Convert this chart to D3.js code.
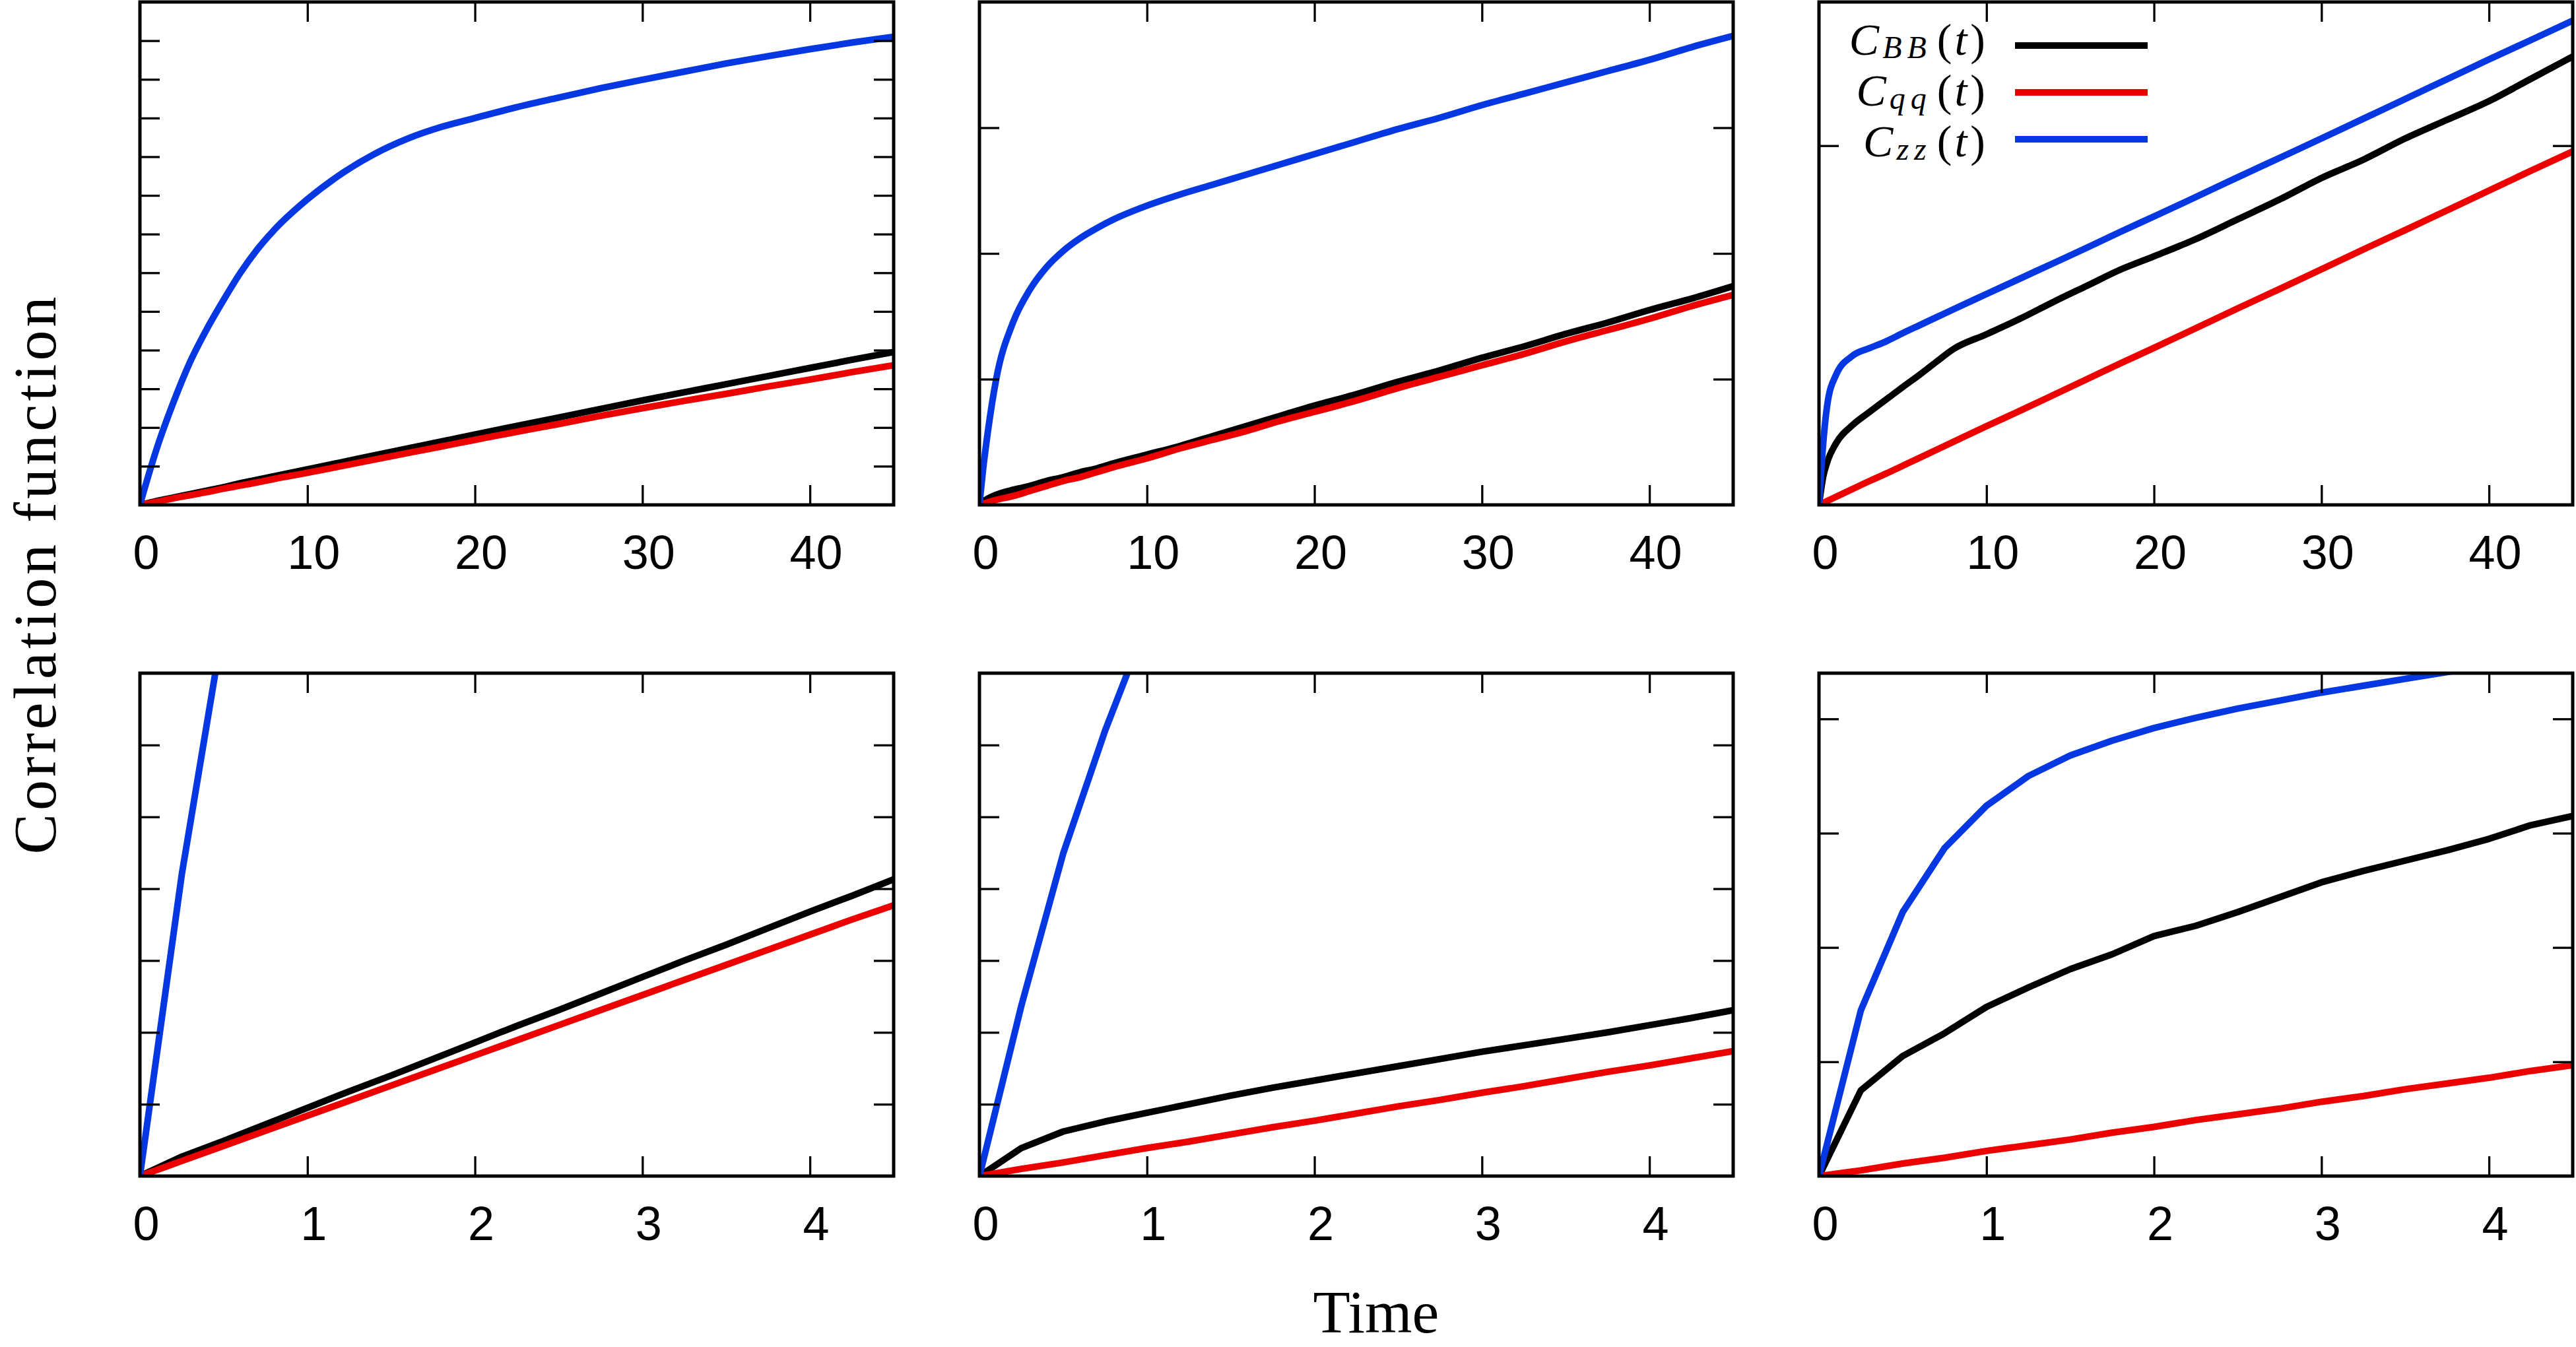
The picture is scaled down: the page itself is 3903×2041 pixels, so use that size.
<!DOCTYPE html>
<html>
<head>
<meta charset="utf-8">
<script src="https://cdn.jsdelivr.net/npm/d3@7"></script>
<style>
  html, body { margin: 0; padding: 0; background: #fff; }
  svg { display: block; }
</style>
</head>
<body>
<script>
// ---------------- DATA ----------------
const tLong  = [0, 0.25, 0.5, 1, 2, 3, 4, 5, 6, 7, 8, 10, 12, 14, 16, 18, 20, 22.5, 25, 27.5, 30, 32.5, 35, 37.5, 40, 42.5, 45];
const tShort = [0, 0.25, 0.5, 0.75, 1, 1.25, 1.5, 1.75, 2, 2.25, 2.5, 2.75, 3, 3.25, 3.5, 3.75, 4, 4.25, 4.5];

// Panel A (top-left)
const bbA = [0, 0.02, 0.05, 0.1, 0.19, 0.28, 0.37, 0.46, 0.56, 0.65, 0.74, 0.92, 1.1, 1.28, 1.46, 1.64, 1.82, 2.04, 2.26, 2.48, 2.7, 2.91, 3.12, 3.33, 3.54, 3.75, 3.95];
const qqA = [0, 0.02, 0.04, 0.08, 0.17, 0.25, 0.33, 0.42, 0.5, 0.58, 0.67, 0.83, 1.0, 1.17, 1.34, 1.51, 1.68, 1.89, 2.09, 2.3, 2.5, 2.69, 2.87, 3.06, 3.24, 3.43, 3.61];
const zzA = [0, 0.38, 0.75, 1.45, 2.65, 3.7, 4.55, 5.3, 6.0, 6.6, 7.1, 7.9, 8.55, 9.07, 9.47, 9.77, 10.0, 10.28, 10.53, 10.77, 10.99, 11.2, 11.41, 11.6, 11.78, 11.95, 12.1];

// Panel B (top-middle)
const bbB = [0, 0.03, 0.05, 0.08, 0.12, 0.15, 0.19, 0.22, 0.26, 0.29, 0.33, 0.4, 0.47, 0.55, 0.63, 0.71, 0.79, 0.88, 0.98, 1.07, 1.17, 1.26, 1.36, 1.45, 1.55, 1.64, 1.74];
const qqB = [0, 0.01, 0.02, 0.04, 0.07, 0.11, 0.15, 0.19, 0.22, 0.26, 0.3, 0.37, 0.45, 0.52, 0.59, 0.67, 0.74, 0.83, 0.93, 1.02, 1.11, 1.2, 1.3, 1.39, 1.48, 1.58, 1.67];
const zzB = [0, 0.32, 0.58, 1.0, 1.45, 1.71, 1.89, 2.02, 2.12, 2.2, 2.27, 2.38, 2.47, 2.55, 2.63, 2.71, 2.79, 2.89, 2.99, 3.08, 3.18, 3.27, 3.36, 3.45, 3.54, 3.64, 3.73];

// Panel C (top-right)
const bbC = [0, 0.078, 0.12, 0.17, 0.222, 0.258, 0.293, 0.328, 0.362, 0.398, 0.433, 0.475, 0.518, 0.565, 0.61, 0.655, 0.692, 0.74, 0.795, 0.85, 0.91, 0.961, 1.02, 1.072, 1.124, 1.186, 1.248];
const qqC = [0, 0.005, 0.011, 0.022, 0.044, 0.066, 0.087, 0.109, 0.131, 0.153, 0.175, 0.219, 0.262, 0.306, 0.35, 0.394, 0.437, 0.492, 0.547, 0.601, 0.656, 0.711, 0.765, 0.82, 0.875, 0.93, 0.984];
const zzC = [0, 0.17, 0.28, 0.36, 0.415, 0.436, 0.455, 0.478, 0.5, 0.522, 0.544, 0.587, 0.63, 0.673, 0.716, 0.76, 0.803, 0.857, 0.912, 0.966, 1.02, 1.075, 1.13, 1.185, 1.24, 1.294, 1.348];

// Panel D (bottom-left)
const bbD = [0, 0.27, 0.49, 0.72, 0.95, 1.18, 1.4, 1.63, 1.86, 2.09, 2.31, 2.54, 2.77, 3.0, 3.22, 3.45, 3.68, 3.9, 4.13];
const qqD = [0, 0.21, 0.42, 0.63, 0.84, 1.05, 1.26, 1.47, 1.68, 1.89, 2.1, 2.31, 2.52, 2.73, 2.94, 3.15, 3.36, 3.57, 3.77];
const zzD = [0, 4.2, 7.7, null, null, null, null, null, null, null, null, null, null, null, null, null, null, null, null];

// Panel E (bottom-middle)
const bbE = [0, 0.39, 0.62, 0.76, 0.88, 1.0, 1.12, 1.23, 1.33, 1.43, 1.53, 1.63, 1.73, 1.82, 1.91, 2.0, 2.1, 2.2, 2.31];
const qqE = [0, 0.1, 0.19, 0.29, 0.39, 0.48, 0.58, 0.68, 0.77, 0.87, 0.97, 1.06, 1.16, 1.25, 1.35, 1.45, 1.54, 1.64, 1.74];
const zzE = [0, 2.37, 4.49, 6.2, 7.7, null, null, null, null, null, null, null, null, null, null, null, null, null, null];

// Panel F (bottom-right)
const bbF = [0, 0.75, 1.05, 1.25, 1.48, 1.65, 1.81, 1.94, 2.1, 2.19, 2.31, 2.44, 2.57, 2.67, 2.76, 2.85, 2.95, 3.07, 3.15];
const qqF = [0, 0.05, 0.11, 0.16, 0.22, 0.27, 0.32, 0.38, 0.43, 0.49, 0.54, 0.59, 0.65, 0.7, 0.76, 0.81, 0.86, 0.92, 0.97];
const zzF = [0, 1.45, 2.31, 2.87, 3.24, 3.5, 3.68, 3.81, 3.92, 4.01, 4.09, 4.16, 4.23, 4.29, 4.35, 4.41, 4.47, 4.53, 4.58];

// Axes / ticks
const xTicksLong  = [0, 10, 20, 30, 40];
const xTicksShort = [0, 1, 2, 3, 4];
const yTicksA = [1, 2, 3, 4, 5, 6, 7, 8, 9, 10, 11, 12];
const yTicksB = [1, 2, 3];
const yTicksC = [1];
const yTicksD = [1, 2, 3, 4, 5, 6];
const yTicksE = [1, 2, 3, 4, 5, 6];
const yTicksF = [1, 2, 3, 4];
const yMax = [13, 4, 1.4, 7, 7, 4.4];

const seriesKeys   = ["BB", "qq", "zz"];
const seriesColors = ["#000000", "#ec0000", "#0537e3"];
const xLabel = "Time";
const yLabel = "Correlation function";

// ---------------- LAYOUT ----------------
const W = 3903, H = 2041;
const PW = 1142, PH = 762;
const lefts = [212, 1484, 2756];
const tops  = [3, 1020];

const panelDefs = [
  {t: tLong,  s: [bbA, qqA, zzA], xd: 45,  xt: xTicksLong,  yt: yTicksA, ym: yMax[0], col: 0, row: 0},
  {t: tLong,  s: [bbB, qqB, zzB], xd: 45,  xt: xTicksLong,  yt: yTicksB, ym: yMax[1], col: 1, row: 0},
  {t: tLong,  s: [bbC, qqC, zzC], xd: 45,  xt: xTicksLong,  yt: yTicksC, ym: yMax[2], col: 2, row: 0, legend: true},
  {t: tShort, s: [bbD, qqD, zzD], xd: 4.5, xt: xTicksShort, yt: yTicksD, ym: yMax[3], col: 0, row: 1},
  {t: tShort, s: [bbE, qqE, zzE], xd: 4.5, xt: xTicksShort, yt: yTicksE, ym: yMax[4], col: 1, row: 1},
  {t: tShort, s: [bbF, qqF, zzF], xd: 4.5, xt: xTicksShort, yt: yTicksF, ym: yMax[5], col: 2, row: 1},
];

const SANS = "'Liberation Sans', Arial, Helvetica, sans-serif";
const SERIF = "'Liberation Serif', 'Times New Roman', serif";

const svg = d3.select("body").append("svg")
  .attr("width", W).attr("height", H)
  .attr("viewBox", `0 0 ${W} ${H}`);
svg.append("rect").attr("width", W).attr("height", H).attr("fill", "#fff");

const defs = svg.append("defs");

panelDefs.forEach((p, i) => {
  const x = d3.scaleLinear().domain([0, p.xd]).range([0, PW]);
  const y = d3.scaleLinear().domain([0, p.ym]).range([PH, 0]);
  const g = svg.append("g").attr("transform", `translate(${lefts[p.col]},${tops[p.row]})`);

  defs.append("clipPath").attr("id", "clip" + i)
    .append("rect").attr("x", 0).attr("y", 0).attr("width", PW).attr("height", PH);

  // data lines (top row: smooth long-time data; bottom row: coarse sampling, straight segments)
  const lineGen = d3.line()
    .defined(d => d[1] !== null)
    .curve(p.row === 0 ? d3.curveMonotoneX : d3.curveLinear)
    .x(d => x(d[0])).y(d => y(d[1]));
  const lg = g.append("g").attr("clip-path", `url(#clip${i})`);
  p.s.forEach((vals, k) => {
    const pts = p.t.map((tt, j) => [tt, vals[j]]);
    lg.append("path").datum(pts)
      .attr("d", lineGen)
      .attr("fill", "none")
      .attr("stroke", seriesColors[k])
      .attr("stroke-width", 10)
      .attr("stroke-linejoin", "round")
      .attr("stroke-linecap", "butt");
  });

  // axes (inward mirrored ticks)
  const styleAxis = sel => {
    sel.select(".domain").remove();
    sel.selectAll(".tick line").attr("stroke", "#000").attr("stroke-width", 3.3);
  };
  const bx = g.append("g").attr("transform", `translate(0,${PH})`)
    .call(d3.axisBottom(x).tickValues(p.xt).tickFormat(d3.format("d"))
      .tickSizeInner(-30).tickSizeOuter(0));
  styleAxis(bx);
  bx.selectAll(".tick text")
    .attr("y", 97).attr("dy", 0).attr("x", 9)
    .attr("font-family", SANS).attr("font-size", 72).attr("fill", "#000");

  const tx = g.append("g")
    .call(d3.axisTop(x).tickValues(p.xt.filter(v => v > 0)).tickSizeInner(-30).tickSizeOuter(0).tickFormat(() => ""));
  styleAxis(tx);

  const ly = g.append("g")
    .call(d3.axisLeft(y).tickValues(p.yt).tickSizeInner(-30).tickSizeOuter(0).tickFormat(() => ""));
  styleAxis(ly);
  const ry = g.append("g").attr("transform", `translate(${PW},0)`)
    .call(d3.axisRight(y).tickValues(p.yt).tickSizeInner(-30).tickSizeOuter(0).tickFormat(() => ""));
  styleAxis(ry);

  // frame
  g.append("rect").attr("x", 0).attr("y", 0).attr("width", PW).attr("height", PH)
    .attr("fill", "none").attr("stroke", "#000").attr("stroke-width", 5);

  // legend
  if (p.legend) {
    const leg = svg.append("g");
    const lineY = [69, 140, 211];
    const baseY = [83, 160, 237];
    seriesKeys.forEach((key, k) => {
      const tEl = leg.append("text")
        .attr("x", 3008).attr("y", baseY[k])
        .attr("text-anchor", "end")
        .attr("font-family", SERIF).attr("font-size", 68).attr("fill", "#000");
      tEl.append("tspan").attr("font-style", "italic").attr("letter-spacing", 3).text("C");
      tEl.append("tspan").attr("font-style", "italic").attr("font-size", 48)
        .attr("dx", 2).attr("dy", 5).attr("letter-spacing", 8).text(key);
      tEl.append("tspan").attr("dx", 8).attr("dy", -5).text("(");
      tEl.append("tspan").attr("font-style", "italic").attr("dx", 4).text("t");
      tEl.append("tspan").attr("dx", 5).text(")");
      leg.append("line")
        .attr("x1", 3053).attr("x2", 3254)
        .attr("y1", lineY[k]).attr("y2", lineY[k])
        .attr("stroke", seriesColors[k]).attr("stroke-width", 10);
    });
  }
});

// axis titles
svg.append("text")
  .attr("transform", "translate(84,872) rotate(-90)")
  .attr("text-anchor", "middle")
  .attr("font-family", SERIF).attr("font-size", 92)
  .attr("textLength", 845).attr("lengthAdjust", "spacing")
  .attr("fill", "#000")
  .text(yLabel);

svg.append("text")
  .attr("x", 2085).attr("y", 2019)
  .attr("text-anchor", "middle")
  .attr("font-family", SERIF).attr("font-size", 92)
  .attr("fill", "#000")
  .text(xLabel);
</script>
</body>
</html>
